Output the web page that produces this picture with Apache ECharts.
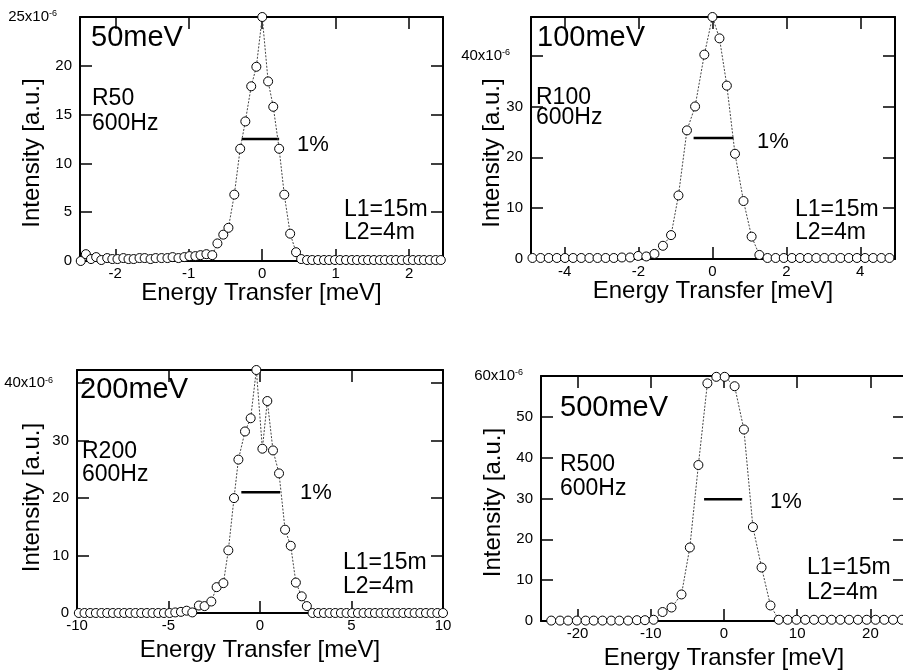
<!DOCTYPE html>
<html>
<head>
<meta charset="utf-8">
<script src="https://cdn.jsdelivr.net/npm/echarts@6/dist/echarts.min.js"></script>
<style>
html, body { margin: 0; padding: 0; background: #fff; }
#main { width: 903px; height: 672px; }
</style>
</head>
<body>
<div id="main"></div>
<script>
// 能量分辨率 4 张图的数据 [energy transfer (meV), intensity (x1e-6)]
var e50 = [
  [-2.47,0.0],[-2.40,0.7],[-2.33,0.2],[-2.26,0.4],[-2.19,0.1],[-2.11,0.3],[-2.04,0.2],[-1.97,0.2],
  [-1.89,0.3],[-1.82,0.2],[-1.75,0.2],[-1.67,0.3],[-1.60,0.3],[-1.52,0.2],[-1.45,0.3],[-1.37,0.3],
  [-1.29,0.3],[-1.22,0.4],[-1.14,0.3],[-1.06,0.4],[-0.99,0.5],[-0.91,0.5],[-0.84,0.6],[-0.76,0.7],
  [-0.68,0.6],[-0.61,1.8],[-0.53,2.7],[-0.46,3.4],[-0.38,6.8],[-0.30,11.5],[-0.23,14.3],[-0.15,17.9],
  [-0.08,19.9],[0.00,25.0],[0.08,18.4],[0.15,15.8],[0.23,11.5],[0.30,6.8],[0.38,2.8],[0.46,0.9],
  [0.53,0.2],[0.61,0.1],[0.68,0.1],[0.76,0.1],[0.84,0.1],[0.91,0.1],[0.99,0.1],[1.06,0.1],
  [1.14,0.1],[1.22,0.1],[1.29,0.1],[1.37,0.1],[1.44,0.1],[1.52,0.1],[1.60,0.1],[1.67,0.1],
  [1.75,0.1],[1.82,0.1],[1.90,0.1],[1.98,0.1],[2.05,0.1],[2.13,0.1],[2.20,0.1],[2.28,0.1],
  [2.36,0.1],[2.43,0.1]
];
var e100 = [
  [-4.87,0.2],[-4.65,0.2],[-4.43,0.2],[-4.21,0.2],[-3.99,0.2],[-3.77,0.2],[-3.55,0.2],[-3.33,0.2],
  [-3.11,0.2],[-2.89,0.2],[-2.67,0.2],[-2.45,0.3],[-2.23,0.3],[-2.01,0.6],[-1.79,0.5],
  [-1.57,1.0],[-1.34,2.6],[-1.12,4.7],[-0.92,12.5],[-0.69,25.3],[-0.47,30.0],[-0.22,40.2],
  [0.00,47.6],[0.19,43.4],[0.39,34.1],[0.61,20.7],[0.84,11.4],[1.06,4.4],[1.27,0.8],
  [1.49,0.2],[1.71,0.2],[1.93,0.2],[2.15,0.2],[2.37,0.2],[2.59,0.2],[2.81,0.2],[3.03,0.2],
  [3.25,0.2],[3.47,0.2],[3.69,0.2],[3.91,0.2],[4.13,0.2],[4.35,0.2],[4.57,0.2],[4.79,0.2]
];
var e200 = [
  [-9.90,0],[-9.59,0],[-9.28,0],[-8.97,0],[-8.66,0],[-8.35,0],[-8.04,0],[-7.73,0],[-7.42,0],
  [-7.11,0],[-6.80,0],[-6.49,0],[-6.18,0],[-5.87,0],[-5.56,0],[-5.25,0],[-4.94,0],[-4.63,0.1],
  [-4.32,0.2],[-4.01,0.4],[-3.70,0.1],[-3.34,1.3],[-3.03,1.2],[-2.66,2.0],[-2.37,4.5],[-2.00,5.2],
  [-1.73,10.9],[-1.42,20.0],[-1.18,26.7],[-0.82,31.6],[-0.51,33.9],[-0.20,42.3],[0.13,28.6],
  [0.40,36.9],[0.71,28.3],[1.04,24.3],[1.37,14.5],[1.68,11.7],[1.96,5.3],[2.28,2.9],[2.56,1.2],
  [2.87,0],[3.18,0],[3.49,0],[3.80,0],[4.11,0],[4.42,0],[4.73,0],[5.04,0],[5.35,0],[5.66,0],
  [5.97,0],[6.28,0],[6.59,0],[6.90,0],[7.21,0],[7.52,0],[7.83,0],[8.14,0],[8.45,0],[8.76,0],
  [9.07,0],[9.38,0],[9.69,0],[10.0,0]
];
var e500 = [
  [-23.6,0.1],[-22.4,0.1],[-21.3,0.1],[-20.1,0.1],[-18.9,0.1],[-17.8,0.1],[-16.6,0.1],[-15.4,0.1],
  [-14.3,0.1],[-13.1,0.1],[-11.9,0.2],[-10.8,0.2],[-9.62,0.3],[-8.39,2.2],[-7.17,3.3],[-5.81,6.5],
  [-4.67,18.0],[-3.50,38.2],[-2.27,58.2],[-1.05,59.8],[0.09,59.8],[1.45,57.5],[2.72,46.9],
  [3.95,23.0],[5.13,13.1],[6.35,3.8],[7.48,0.3],[8.7,0.3],[9.9,0.3],[11.1,0.3],[12.3,0.3],
  [13.5,0.3],[14.7,0.3],[15.9,0.3],[17.1,0.3],[18.3,0.3],[19.5,0.3],[20.7,0.3],[21.9,0.3],
  [23.1,0.3],[24.3,0.3]
];

// 1% 分辨率横线
var bar50 = [[-0.28,12.5],[0.23,12.5]];
var bar100 = [[-0.51,23.8],[0.57,23.8]];
var bar200 = [[-1.02,21.0],[1.10,21.0]];
var bar500 = [[-2.72,29.8],[2.49,29.8]];

// 刻度
var xt50 = [-2,-1,0,1,2];
var yt50 = [0,5,10,15,20,25];
var xt100 = [-4,-2,0,2,4];
var yt100 = [0,10,20,30,40];
var xt200 = [-10,-5,0,5,10];
var yt200 = [0,10,20,30,40];
var xt500 = [-20,-10,0,10,20];
var yt500 = [0,10,20,30,40,50,60];

var FONT = 'Liberation Sans';

var panels = [
  {data: e50, bar: bar50, xr: [-2.48, 2.46], yr: [0, 25], xt: xt50, yt: yt50, topLabel: 25,
   grid: {left: 80, top: 17, width: 363, height: 244}, xGap: 20, yGap: 36, yPad: 28, rTick: 12, topPad: 15},
  {data: e100, bar: bar100, xr: [-4.91, 4.94], yr: [0, 47.6], xt: xt100, yt: yt100, topLabel: 40,
   grid: {left: 531, top: 17, width: 364, height: 242}, xGap: 20, yGap: 27, yPad: 30, rTick: 12, topPad: 13},
  {data: e200, bar: bar200, xr: [-10, 10], yr: [0, 42.3], xt: xt200, yt: yt200, topLabel: 40,
   grid: {left: 77, top: 370, width: 366, height: 243}, xGap: 25, yGap: 33, yPad: 12, rTick: 12, topPad: 16},
  {data: e500, bar: bar500, xr: [-25, 25], yr: [0, 60], xt: xt500, yt: yt500, topLabel: 60,
   grid: {left: 541, top: 376, width: 366, height: 245}, xGap: 25, yGap: 36, yPad: 8, rTick: 14, topPad: 10}
];

var lineAxis = {show: true, onZero: false, lineStyle: {color: '#000', width: 2}};

var grids = [], xAxes = [], yAxes = [], series = [];
panels.forEach(function (p, i) {
  grids.push({
    left: p.grid.left, top: p.grid.top, width: p.grid.width, height: p.grid.height,
    containLabel: false, outerBoundsMode: 'none'
  });
  // 下 x 轴
  xAxes.push({
    gridIndex: i, type: 'value', min: p.xr[0], max: p.xr[1], position: 'bottom',
    name: 'Energy Transfer [meV]', nameLocation: 'middle', nameGap: p.xGap, nameMoveOverlap: false,
    nameTextStyle: {fontFamily: FONT, fontSize: 24, color: '#000'},
    axisLine: lineAxis, splitLine: {show: false},
    axisTick: {inside: true, length: 12, lineStyle: {width: 1.5, color: '#000'}, customValues: p.xt},
    axisLabel: {customValues: p.xt, fontFamily: FONT, fontSize: 15, color: '#000', margin: 5,
      showMinLabel: true, showMaxLabel: true}
  });
  // 上 x 轴（只画刻度）
  xAxes.push({
    gridIndex: i, type: 'value', min: p.xr[0], max: p.xr[1], position: 'top',
    axisLine: lineAxis, splitLine: {show: false}, axisLabel: {show: false},
    axisTick: {inside: true, length: 12, lineStyle: {width: 1.5, color: '#000'}, customValues: p.xt}
  });
  // 左 y 轴
  yAxes.push({
    gridIndex: i, type: 'value', min: p.yr[0], max: p.yr[1], position: 'left',
    name: 'Intensity [a.u.]', nameLocation: 'middle', nameGap: p.yGap, nameMoveOverlap: false,
    nameTextStyle: {fontFamily: FONT, fontSize: 24, color: '#000', padding: [0, p.yPad, 0, 0]},
    axisLine: lineAxis, splitLine: {show: false},
    axisTick: {inside: true, length: 12, lineStyle: {width: 1.5, color: '#000'}, customValues: p.yt},
    axisLabel: {
      customValues: p.yt, margin: 8, color: '#000', fontFamily: FONT, fontSize: 15,
      formatter: function (v) {
        return v === p.topLabel ? v + 'x10{s|-6}' : String(v);
      },
      rich: {
        s: {fontFamily: FONT, fontSize: 9, color: '#000', verticalAlign: 'top', lineHeight: 9,
          padding: [0, p.topPad, 0, 0]}
      }
    }
  });
  // 右 y 轴（只画刻度）
  yAxes.push({
    gridIndex: i, type: 'value', min: p.yr[0], max: p.yr[1], position: 'right',
    axisLine: lineAxis, splitLine: {show: false}, axisLabel: {show: false},
    axisTick: {inside: true, length: p.rTick, lineStyle: {width: 1.5, color: '#000'}, customValues: p.yt}
  });

  series.push({
    type: 'line', xAxisIndex: i * 2, yAxisIndex: i * 2, data: p.data,
    symbol: 'circle', symbolSize: 9, clip: false, z: 5,
    itemStyle: {color: '#fff', borderColor: '#000', borderWidth: 1},
    lineStyle: {color: '#444', width: 1, type: [2, 1.5]}
  });
  series.push({
    type: 'line', xAxisIndex: i * 2, yAxisIndex: i * 2, data: p.bar,
    symbol: 'none', z: 4,
    lineStyle: {color: '#000', width: 2.5}
  });
});

function txt(x, y, s, size) {
  return {type: 'text', x: x, y: y, z: 10,
    style: {text: s, fontFamily: FONT, fontSize: size, fill: '#000', verticalAlign: 'middle'}};
}

var graphics = [
  txt(91, 38, '50meV', 29), txt(92, 99, 'R50', 23), txt(92, 124, '600Hz', 23),
  txt(297, 145, '1%', 22), txt(344, 210, 'L1=15m', 23), txt(344, 233, 'L2=4m', 23),

  txt(537, 38, '100meV', 29), txt(536, 98, 'R100', 23), txt(536, 118, '600Hz', 23),
  txt(757, 142, '1%', 22), txt(795, 210, 'L1=15m', 23), txt(795, 233, 'L2=4m', 23),

  txt(80, 390, '200meV', 29), txt(82, 452, 'R200', 23), txt(82, 475, '600Hz', 23),
  txt(300, 493, '1%', 22), txt(343, 563, 'L1=15m', 23), txt(343, 587, 'L2=4m', 23),

  txt(560, 408, '500meV', 29), txt(560, 465, 'R500', 23), txt(560, 489, '600Hz', 23),
  txt(770, 502, '1%', 22), txt(807, 568, 'L1=15m', 23), txt(807, 593, 'L2=4m', 23)
];

var myChart = echarts.init(document.getElementById('main'));
var option = {
  animation: false,
  backgroundColor: '#fff',
  grid: grids,
  xAxis: xAxes,
  yAxis: yAxes,
  series: series,
  graphic: graphics
};
myChart.setOption(option);
</script>
</body>
</html>
